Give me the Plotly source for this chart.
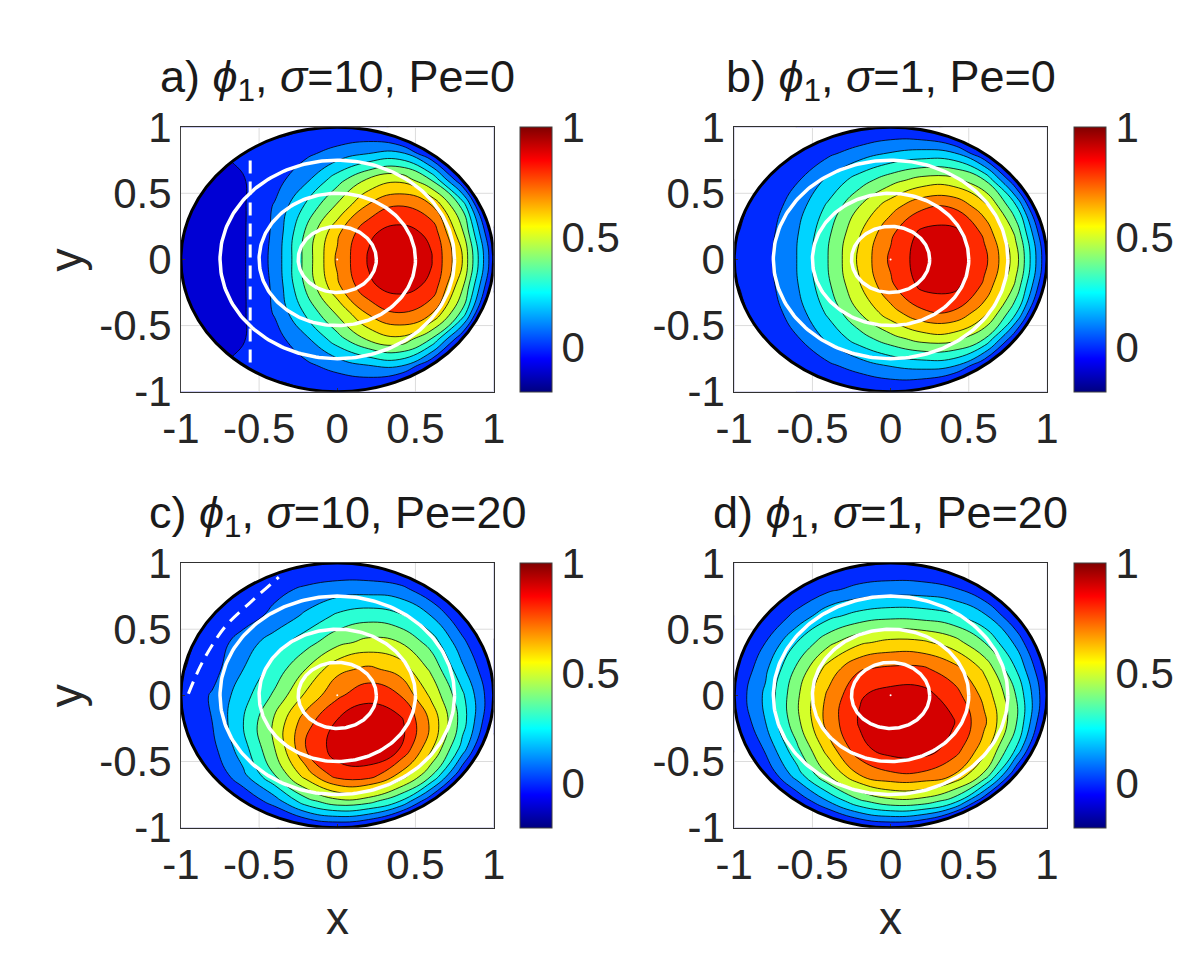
import numpy as np
import plotly.graph_objects as go

x_nodes = [-1.0, -0.8, -0.6, -0.4, -0.2, 0.0, 0.2, 0.4, 0.6, 0.8, 1.0]
y_nodes = [1.0, 0.8, 0.6, 0.4, 0.2, 0.0, -0.2, -0.4, -0.6, -0.8, -1.0]

# rows go from y=1 (top) to y=-1 (bottom); nodes outside the disk only close the contours at the wall
phi_a = [
    [-0.05, -0.05, -0.02, -0.03, -0.01, 0.00, -0.02, -0.16, -0.30, -0.40, -0.40],
    [-0.05, -0.02, 0.02, 0.04, 0.08, 0.14, 0.20, 0.22, 0.01, -0.30, -0.40],
    [-0.03, -0.02, -0.005, 0.06, 0.18, 0.36, 0.52, 0.58, 0.40, 0.01, -0.30],
    [-0.04, -0.05, -0.01, 0.11, 0.32, 0.52, 0.72, 0.81, 0.72, 0.38, -0.27],
    [-0.04, -0.06, -0.01, 0.12, 0.42, 0.68, 0.885, 0.94, 0.88, 0.52, -0.06],
    [-0.03, -0.06, -0.01, 0.13, 0.44, 0.72, 0.91, 0.98, 0.91, 0.60, 0.01],
    [-0.04, -0.06, -0.01, 0.12, 0.42, 0.68, 0.885, 0.94, 0.88, 0.52, -0.06],
    [-0.04, -0.05, -0.01, 0.11, 0.32, 0.52, 0.72, 0.81, 0.72, 0.38, -0.27],
    [-0.03, -0.02, -0.005, 0.06, 0.18, 0.36, 0.52, 0.58, 0.40, 0.01, -0.30],
    [-0.05, -0.02, 0.02, 0.04, 0.08, 0.14, 0.20, 0.22, 0.01, -0.30, -0.40],
    [-0.05, -0.05, -0.02, -0.03, -0.01, 0.00, -0.02, -0.16, -0.30, -0.40, -0.40],
]

phi_b = [
    [-0.30, -0.30, -0.10, -0.06, -0.02, 0.00, -0.03, -0.16, -0.30, -0.40, -0.40],
    [-0.30, -0.10, 0.01, 0.08, 0.15, 0.21, 0.24, 0.22, 0.01, -0.30, -0.40],
    [-0.10, 0.01, 0.09, 0.22, 0.35, 0.46, 0.54, 0.54, 0.40, 0.01, -0.30],
    [-0.03, 0.04, 0.15, 0.32, 0.50, 0.66, 0.78, 0.79, 0.64, 0.32, -0.23],
    [-0.01, 0.06, 0.19, 0.38, 0.59, 0.78, 0.925, 0.935, 0.78, 0.48, -0.05],
    [0.02, 0.07, 0.20, 0.40, 0.62, 0.82, 0.95, 0.97, 0.83, 0.55, 0.01],
    [-0.01, 0.06, 0.19, 0.38, 0.59, 0.78, 0.925, 0.935, 0.78, 0.48, -0.05],
    [-0.03, 0.04, 0.15, 0.32, 0.50, 0.66, 0.78, 0.79, 0.64, 0.32, -0.23],
    [-0.10, 0.01, 0.09, 0.22, 0.35, 0.46, 0.54, 0.54, 0.40, 0.01, -0.30],
    [-0.30, -0.10, 0.01, 0.08, 0.15, 0.21, 0.24, 0.22, 0.01, -0.30, -0.40],
    [-0.30, -0.30, -0.10, -0.06, -0.02, 0.00, -0.03, -0.16, -0.30, -0.40, -0.40],
]

phi_c = [
    [-0.30, -0.30, -0.10, -0.03, -0.01, 0.00, -0.02, -0.09, -0.20, -0.30, -0.30],
    [-0.30, -0.30, 0.02, 0.07, 0.12, 0.15, 0.16, 0.14, 0.02, -0.30, -0.30],
    [-0.10, 0.01, 0.05, 0.13, 0.22, 0.32, 0.36, 0.32, 0.20, 0.01, -0.20],
    [-0.03, 0.04, 0.15, 0.25, 0.36, 0.47, 0.53, 0.50, 0.36, 0.13, -0.09],
    [-0.01, 0.06, 0.20, 0.34, 0.50, 0.67, 0.72, 0.66, 0.48, 0.22, -0.02],
    [0.02, 0.11, 0.26, 0.42, 0.62, 0.78, 0.87, 0.80, 0.58, 0.32, 0.01],
    [-0.01, 0.10, 0.30, 0.52, 0.76, 0.91, 0.97, 0.93, 0.68, 0.35, -0.04],
    [-0.05, 0.07, 0.26, 0.50, 0.80, 0.95, 0.97, 0.90, 0.62, 0.26, -0.18],
    [-0.10, 0.01, 0.18, 0.40, 0.65, 0.85, 0.86, 0.68, 0.42, 0.01, -0.20],
    [-0.30, -0.30, 0.01, 0.15, 0.36, 0.47, 0.44, 0.30, 0.01, -0.30, -0.30],
    [-0.30, -0.30, -0.20, -0.11, -0.04, 0.00, -0.05, -0.21, -0.20, -0.30, -0.30],
]

phi_d = [
    [-0.30, -0.30, -0.10, -0.06, -0.01, 0.00, -0.02, -0.09, -0.20, -0.30, -0.30],
    [-0.30, -0.30, 0.01, 0.08, 0.13, 0.15, 0.15, 0.12, 0.01, -0.30, -0.30],
    [-0.10, 0.01, 0.13, 0.27, 0.34, 0.37, 0.36, 0.32, 0.22, 0.01, -0.20],
    [-0.07, 0.10, 0.30, 0.47, 0.58, 0.63, 0.62, 0.55, 0.40, 0.18, -0.13],
    [-0.02, 0.18, 0.42, 0.64, 0.79, 0.82, 0.82, 0.74, 0.58, 0.30, -0.03],
    [0.02, 0.22, 0.48, 0.72, 0.89, 0.94, 0.94, 0.85, 0.67, 0.40, 0.01],
    [-0.02, 0.20, 0.47, 0.74, 0.91, 0.98, 0.99, 0.91, 0.72, 0.42, -0.05],
    [-0.09, 0.12, 0.38, 0.65, 0.87, 0.95, 0.96, 0.86, 0.65, 0.30, -0.21],
    [-0.20, 0.01, 0.25, 0.50, 0.70, 0.78, 0.78, 0.70, 0.48, 0.01, -0.30],
    [-0.30, -0.30, 0.01, 0.20, 0.38, 0.47, 0.46, 0.35, 0.01, -0.30, -0.30],
    [-0.30, -0.30, -0.20, -0.14, -0.04, 0.00, -0.05, -0.25, -0.30, -0.30, -0.30],
]

titles = [
    "a) <i>ϕ</i><sub>1</sub>, <i>σ</i>=10, Pe=0",
    "b) <i>ϕ</i><sub>1</sub>, <i>σ</i>=1, Pe=0",
    "c) <i>ϕ</i><sub>1</sub>, <i>σ</i>=10, Pe=20",
    "d) <i>ϕ</i><sub>1</sub>, <i>σ</i>=1, Pe=20",
]

# white circles (same in every panel)
ring_r = [0.25, 0.5, 0.75]
ring_cx, ring_cy = 0.0, 0.0

# white dashed lines
dash_a_x = [-0.557, -0.557]
dash_a_y = [-0.78, 0.78]
dash_c_x = [-0.952, -0.862, -0.719, -0.552, -0.374]
dash_c_y = [0.012, 0.252, 0.516, 0.707, 0.894]

tick_vals = [-1, -0.5, 0, 0.5, 1]
tick_text = ["-1", "-0.5", "0", "0.5", "1"]
cb_vals = [0, 0.5, 1]
cb_text = ["0", "0.5", "1"]
c_min, c_max = -0.2, 1.0
lev_start, lev_end, lev_step = -0.1, 0.9, 0.1

# matlab jet
jet_pos = [0, 0.125, 0.375, 0.625, 0.875, 1]
jet_rgb = np.array([[0, 0, 128], [0, 0, 255], [0, 255, 255], [255, 255, 0], [255, 0, 0], [128, 0, 0]])
jet = [[p, "rgb(%d,%d,%d)" % tuple(c)] for p, c in zip(jet_pos, jet_rgb)]

def jet_at(t):
    return [np.interp(t, jet_pos, jet_rgb[:, k]) for k in range(3)]

# plotly paints a band with the colour at its midpoint; matlab uses the lower level
nc = int(round((lev_end - lev_start) / lev_step)) + 1
fill_scale = []
for p in np.linspace(0, 1, 61):
    t = (p * nc * lev_step + lev_start - lev_step - c_min) / (c_max - c_min)
    r, g, b = jet_at(min(max(t, 0), 1))
    fill_scale.append([float(p), "rgb(%d,%d,%d)" % (r, g, b)])

W, H = 1200, 975
FONT = "Liberation Sans, Arial, Helvetica, sans-serif"
TICK = 42
ax_left = [158, 726]
ax_top = [101, 559]
ax_w, ax_h = 321, 278
cb_left = [506, 1075]
cb_w = 32

fields = [phi_a, phi_b, phi_c, phi_d]
fig = go.Figure()
theta = np.linspace(0, 2 * np.pi, 241)

shapes = []
annotations = []
for i, z in enumerate(fields):
    row, col = divmod(i, 2)
    n = "" if i == 0 else str(i + 1)
    xa, ya = "x" + n, "y" + n
    x0 = ax_left[col] / W
    x1 = (ax_left[col] + ax_w) / W
    y1 = 1 - ax_top[row] / H
    y0 = 1 - (ax_top[row] + ax_h) / H

    fig.add_trace(go.Contour(
        x=x_nodes, y=y_nodes, z=z, xaxis=xa, yaxis=ya,
        autocontour=False,
        contours=dict(start=lev_start, end=lev_end, size=lev_step, coloring="fill"),
        colorscale=fill_scale, showscale=False,
        line=dict(color="black", width=0.8, smoothing=1.3),
        hoverinfo="skip",
    ))

    rx, ry = [], []
    for r in ring_r:
        rx += list(ring_cx + r * np.cos(theta)) + [None]
        ry += list(ring_cy + r * np.sin(theta)) + [None]
    fig.add_trace(go.Scatter(x=rx, y=ry, mode="lines", xaxis=xa, yaxis=ya,
                             line=dict(color="white", width=3.5), showlegend=False, hoverinfo="skip"))
    fig.add_trace(go.Scatter(x=[ring_cx], y=[ring_cy], mode="markers", xaxis=xa, yaxis=ya,
                             marker=dict(color="white", size=2), showlegend=False, hoverinfo="skip"))
    if i == 0:
        fig.add_trace(go.Scatter(x=dash_a_x, y=dash_a_y, mode="lines", xaxis=xa, yaxis=ya,
                                 line=dict(color="white", width=3, dash="13px,8px"),
                                 showlegend=False, hoverinfo="skip"))
    if i == 2:
        fig.add_trace(go.Scatter(x=dash_c_x, y=dash_c_y, mode="lines", xaxis=xa, yaxis=ya,
                                 line=dict(color="white", width=3, dash="13px,8px", shape="spline"),
                                 showlegend=False, hoverinfo="skip"))

    # continuous colorbar like matlab
    fig.add_trace(go.Scatter(
        x=[None], y=[None], mode="markers", xaxis=xa, yaxis=ya, showlegend=False, hoverinfo="skip",
        marker=dict(color=[c_min], colorscale=jet, cmin=c_min, cmax=c_max, showscale=True,
                    colorbar=dict(x=cb_left[col] / W, xanchor="left", xref="paper",
                                  y=(y0 + y1) / 2, yanchor="middle", len=y1 - y0, lenmode="fraction",
                                  thickness=cb_w, thicknessmode="pixels", xpad=0, ypad=0,
                                  outlinewidth=1, outlinecolor="#404040",
                                  tickvals=cb_vals, ticktext=cb_text, ticks="",
                                  tickfont=dict(family=FONT, size=TICK, color="#262626"))),
    ))

    axis_style = dict(range=[-1, 1], tickvals=tick_vals, ticktext=tick_text, showgrid=False,
                      zeroline=False, showline=True, mirror=True, linecolor="#303030", linewidth=1,
                      ticks="inside", ticklen=4, tickcolor="#303030",
                      tickfont=dict(family=FONT, size=TICK, color="#262626"))
    fig.layout["xaxis" + n] = dict(domain=[x0, x1], anchor=ya, **axis_style)
    fig.layout["yaxis" + n] = dict(domain=[y0, y1], anchor=xa, **axis_style)

    # white outside the disk
    path = "M -1.2,-1.2 L 1.2,-1.2 L 1.2,1.2 L -1.2,1.2 Z M 1,0"
    for a in theta[1:]:
        path += " L %.5f,%.5f" % (np.cos(-a), np.sin(-a))
    path += " Z"
    shapes.append(dict(type="path", path=path, xref=xa, yref=ya, fillcolor="white",
                       fillrule="evenodd", line=dict(width=0), layer="above"))
    # grid pieces visible outside the disk
    for v in (-0.5, 0.5):
        e = float(np.sqrt(1 - v * v))
        for s0, s1 in ((e, 1), (-1, -e)):
            shapes.append(dict(type="line", xref=xa, yref=ya, x0=v, x1=v, y0=s0, y1=s1,
                               line=dict(color="#dcdcdc", width=1), layer="above"))
            shapes.append(dict(type="line", xref=xa, yref=ya, y0=v, y1=v, x0=s0, x1=s1,
                               line=dict(color="#dcdcdc", width=1), layer="above"))
    shapes.append(dict(type="circle", xref=xa, yref=ya, x0=-1, x1=1, y0=-1, y1=1,
                       line=dict(color="black", width=3), layer="above"))

    annotations.append(dict(text=titles[i], x=(x0 + x1) / 2, y=1 - (ax_top[row] - 50) / H,
                            xref="paper", yref="paper", xanchor="center", yanchor="middle",
                            showarrow=False, font=dict(family=FONT, size=45, color="#1a1a1a")))
    if col == 0:
        annotations.append(dict(text="y", x=40 / W, y=(y0 + y1) / 2, xref="paper", yref="paper",
                                textangle=-90, showarrow=False, xanchor="center", yanchor="middle",
                                font=dict(family=FONT, size=46, color="#262626")))
    if row == 1:
        annotations.append(dict(text="x", x=(x0 + x1) / 2, y=1 - 932 / H, xref="paper", yref="paper",
                                showarrow=False, xanchor="center", yanchor="middle",
                                font=dict(family=FONT, size=46, color="#262626")))

fig.update_layout(width=W, height=H, margin=dict(l=0, r=0, t=0, b=0),
                  paper_bgcolor="white", plot_bgcolor="white", showlegend=False,
                  shapes=shapes, annotations=annotations)

fig.write_html("out.html")
